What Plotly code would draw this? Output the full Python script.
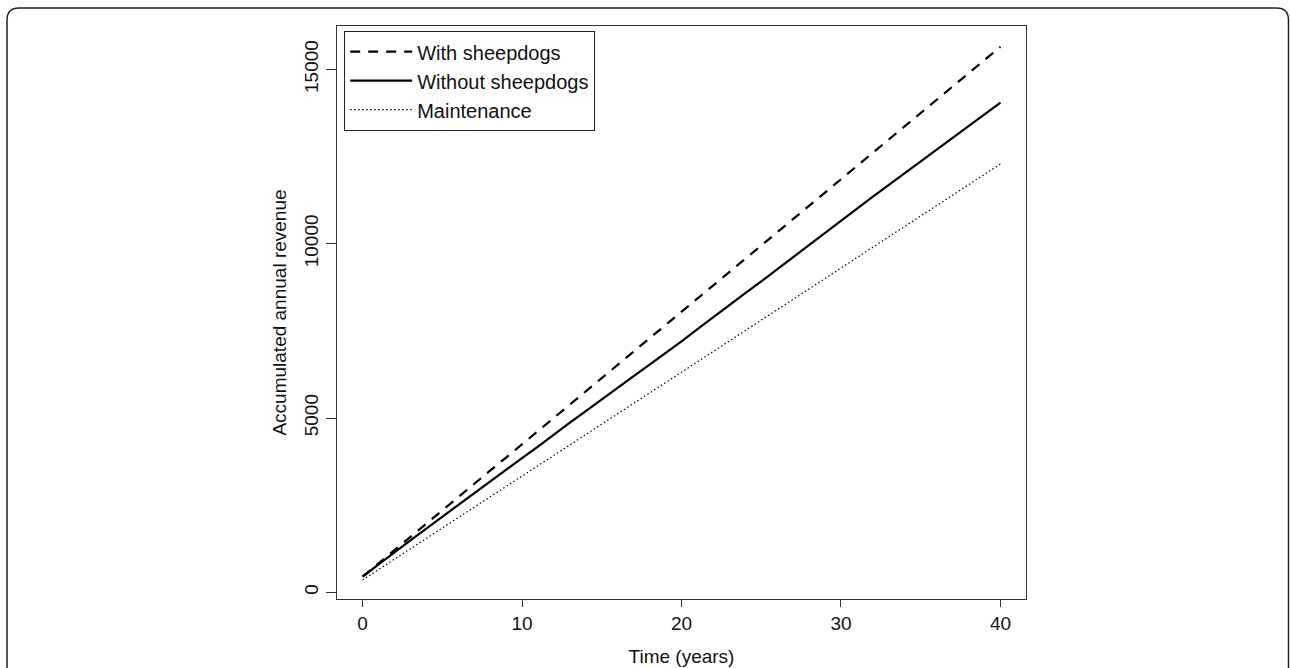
import plotly.graph_objects as go

years = list(range(0, 41))

with_sheepdogs = [447, 830, 1215, 1600, 1980, 2355, 2730, 3110, 3490, 3865, 4245, 4625, 5005, 5390, 5770, 6150, 6530, 6905, 7290, 7670, 8050,
                  8420, 8800, 9180, 9560, 9940, 10320, 10700, 11080, 11455, 11835, 12215, 12595, 12975, 13360, 13740, 14120, 14500, 14885, 15265, 15650]
without_sheepdogs = [447, 800, 1150, 1490, 1830, 2170, 2500, 2840, 3180, 3510, 3850, 4180, 4530, 4870, 5200, 5540, 5870, 6200, 6530, 6860, 7200,
                     7550, 7900, 8240, 8580, 8920, 9270, 9620, 9970, 10320, 10670, 11010, 11350, 11690, 12030, 12370, 12710, 13050, 13390, 13720, 14050]
maintenance = [353, 650, 950, 1250, 1545, 1840, 2140, 2440, 2735, 3030, 3330, 3625, 3920, 4220, 4520, 4820, 5110, 5410, 5710, 6010, 6310,
               6610, 6910, 7210, 7510, 7810, 8100, 8400, 8700, 9000, 9300, 9600, 9900, 10200, 10500, 10800, 11100, 11390, 11690, 11990, 12290]

x_ticks = [0, 10, 20, 30, 40]
y_ticks = [0, 5000, 10000, 15000]
y_tick_labels = ["0", "5000", "10000", "15000"]

W, H = 1290, 668
L, R, T, B = 337, 1026, 26, 599
FONT = "Liberation Sans, Arial, sans-serif"

fig = go.Figure()
fig.add_trace(go.Scatter(x=years, y=with_sheepdogs, mode="lines", name="With sheepdogs",
                         line=dict(color="black", width=2.2, dash="10px,8px")))
fig.add_trace(go.Scatter(x=years, y=without_sheepdogs, mode="lines", name="Without sheepdogs",
                         line=dict(color="black", width=2.2)))
fig.add_trace(go.Scatter(x=years, y=maintenance, mode="lines", name="Maintenance",
                         line=dict(color="black", width=1.2, dash="1.5px,2.5px")))

pw, ph = R - L, B - T
def px(xp):
    return (xp - L) / pw
def py(yp):
    return 1 - (yp - T) / ph

r = 12
x0, x1, y0, yb = 7, 1288.5, 8, 690
path = (f"M {px(x0)},{py(yb)} L {px(x0)},{py(y0 + r)} Q {px(x0)},{py(y0)} {px(x0 + r)},{py(y0)} "
        f"L {px(x1 - r)},{py(y0)} Q {px(x1)},{py(y0)} {px(x1)},{py(y0 + r)} L {px(x1)},{py(yb)}")
fig.add_shape(type="path", xref="paper", yref="paper", path=path,
              line=dict(color="#222222", width=1.5))

fig.update_layout(
    width=W, height=H,
    margin=dict(l=L, r=W - R, t=T, b=H - B),
    paper_bgcolor="white", plot_bgcolor="white",
    font=dict(family=FONT, size=19, color="#111111"),
    showlegend=True,
    legend=dict(x=px(344), y=py(31), xanchor="left", yanchor="top",
                bordercolor="#222222", borderwidth=1.2, bgcolor="white",
                font=dict(size=20), itemwidth=62, tracegroupgap=0),
    xaxis=dict(range=[-1.6, 41.6], tickvals=x_ticks, ticks="outside", ticklen=7, tickwidth=1.2,
               tickcolor="#333333", showline=True, linecolor="#333333", linewidth=1.2, mirror=True,
               showgrid=False, zeroline=False, ticklabelstandoff=0, automargin=False,
               title=dict(text="Time (years)", standoff=16, font=dict(size=19))),
    yaxis=dict(range=[-192, 16245], tickvals=y_ticks, ticktext=y_tick_labels, ticks="outside", ticklen=10,
               tickwidth=1.2, tickcolor="#333333", showline=True, linecolor="#333333", linewidth=1.2,
               mirror=True, showgrid=False, zeroline=False, tickangle=-90, automargin=False,
               title=dict(text="Accumulated annual revenue", standoff=9, font=dict(size=19))),
)

fig.write_html("out.html", config={"displayModeBar": False},
               post_script="document.body.style.margin='0px';document.body.style.padding='0px';")
